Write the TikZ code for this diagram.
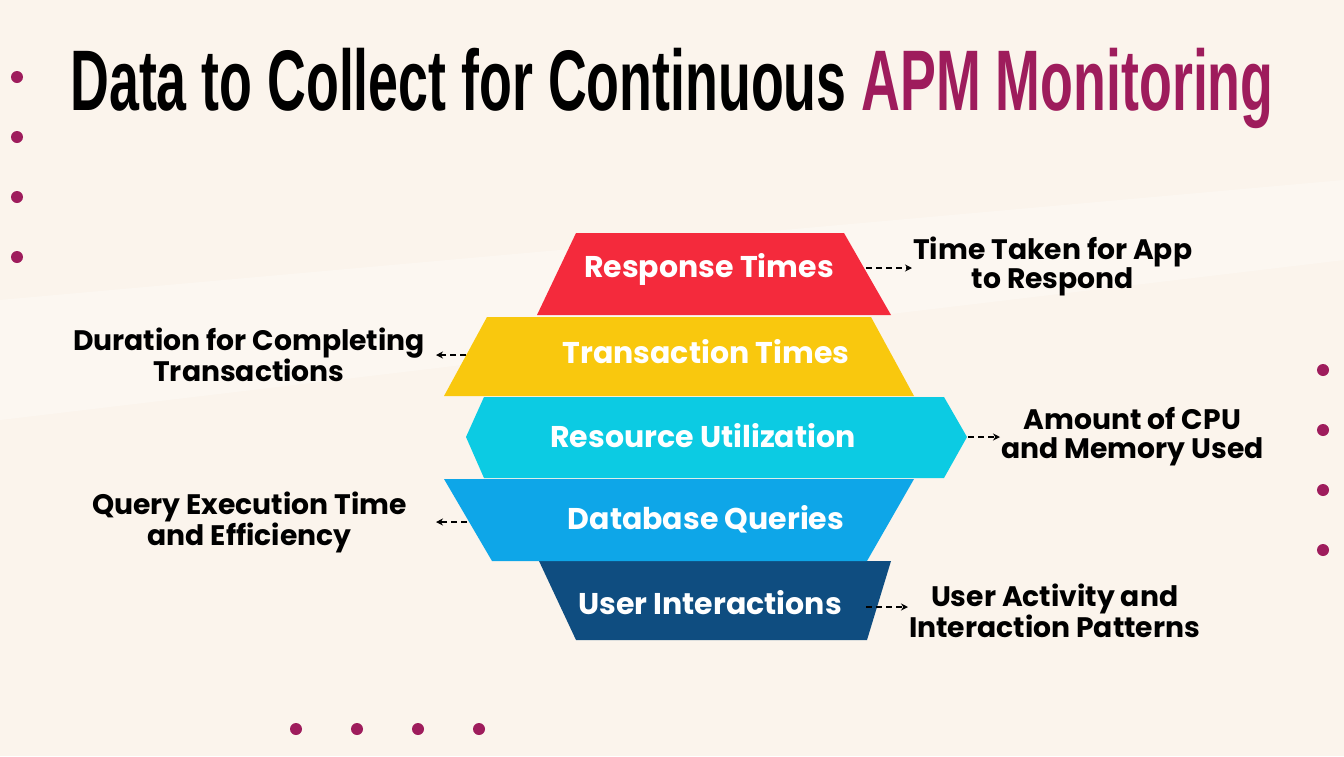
\documentclass[tikz,border=0pt]{standalone}
\usepackage{fontspec}
\setmainfont{Poppins}
\newfontfamily\titlefont{Liberation Sans}
\usetikzlibrary{arrows.meta}
\definecolor{bgc}{HTML}{FBF4EC}
\definecolor{mag}{HTML}{9E1C5C}
\definecolor{cred}{HTML}{F42A3C}
\definecolor{cyel}{HTML}{F9C80E}
\definecolor{ccya}{HTML}{0CCBE3}
\definecolor{cblu}{HTML}{0EA6E8}
\definecolor{cdrk}{HTML}{0F4D80}
\tikzset{
  dot/.style={circle,fill=mag,inner sep=0pt,minimum size=12pt},
  lab/.style={font=\fontsize{30}{31}\selectfont\bfseries,text=white},
  side/.style={font=\fontsize{28.2}{29}\selectfont\bfseries,align=center,inner sep=1pt},
  darr/.style={dash pattern=on 6pt off 4pt,line width=1.8pt,-{Stealth[length=7pt,width=7pt]}},
}
\begin{document}
\begin{tikzpicture}[x=1pt,y=-1pt]
\fill[bgc] (0,0) rectangle (1344,756);
\useasboundingbox (0,0) rectangle (1344,756);
\fill[white,opacity=0.3] (0,300) -- (1344,180) -- (1344,260) -- (0,420) -- cycle;
% title
\node (title) at (672,88) {\titlefont\bfseries\fontsize{86}{86}\selectfont\scalebox{0.625}[1]{Data to Collect for Continuous \textcolor{mag}{APM Monitoring}}};
% dots
\foreach \y [count=\i] in {77,137,197,257}{\node[dot] (l\i) at (17,\y) {};}
\foreach \y [count=\i] in {370,430,490,550}{\node[dot] (r\i) at (1323,\y) {};}
\foreach \x [count=\i] in {296,357,418,479}{\node[dot] (b\i) at (\x,729) {};}
% shapes
\fill[cdrk] (539,561) -- (891,561) -- (867,640) -- (576,640) -- cycle;
\fill[cblu] (444,479) -- (914,479) -- (867,561) -- (492,561) -- cycle;
\fill[ccya] (484,397) -- (944,397) -- (967,437) -- (944,478) -- (484,478) -- (466,437) -- cycle;
\fill[cyel] (487,317) -- (871,317) -- (914,396) -- (444,396) -- cycle;
\fill[cred] (576,233) -- (844,233) -- (891,315) -- (537,315) -- cycle;
\node[lab] (n1) at (709,269) {Response Times};
\node[lab] (n2) at (706,352) {Transaction Times};
\node[lab] (n3) at (703,436) {Resource Utilization};
\node[lab] (n4) at (706,519) {Database Queries};
\node[lab] (n5) at (710,603) {User Interactions};
\coordinate (e1) at (866,268);
\coordinate (e2) at (466,355);
\coordinate (e3) at (968,437);
\coordinate (e4) at (467,522);
\coordinate (e5) at (866,607);
\node[side,anchor=west] (s1) at (912,266) {Time Taken for App\\to Respond};
\node[side,anchor=east] (s2) at (426,355) {Duration for Completing\\Transactions};
\node[side,anchor=west] (s3) at (1000,437) {Amount of CPU\\and Memory Used};
\node[side,anchor=east] (s4) at (408,522) {Query Execution Time\\and Efficiency};
\node[side,anchor=west] (s5) at (908,611) {User Activity and\\Interaction Patterns};
\draw[darr] (e1) -- (s1.west|-e1);
\draw[darr] (e2) -- ([xshift=10pt]s2.east|-e2);
\draw[darr] (e3) -- (s3.west|-e3);
\draw[darr] (e4) -- ([xshift=28pt]s4.east|-e4);
\draw[darr] (e5) -- (s5.west|-e5);
\end{tikzpicture}
\end{document}
